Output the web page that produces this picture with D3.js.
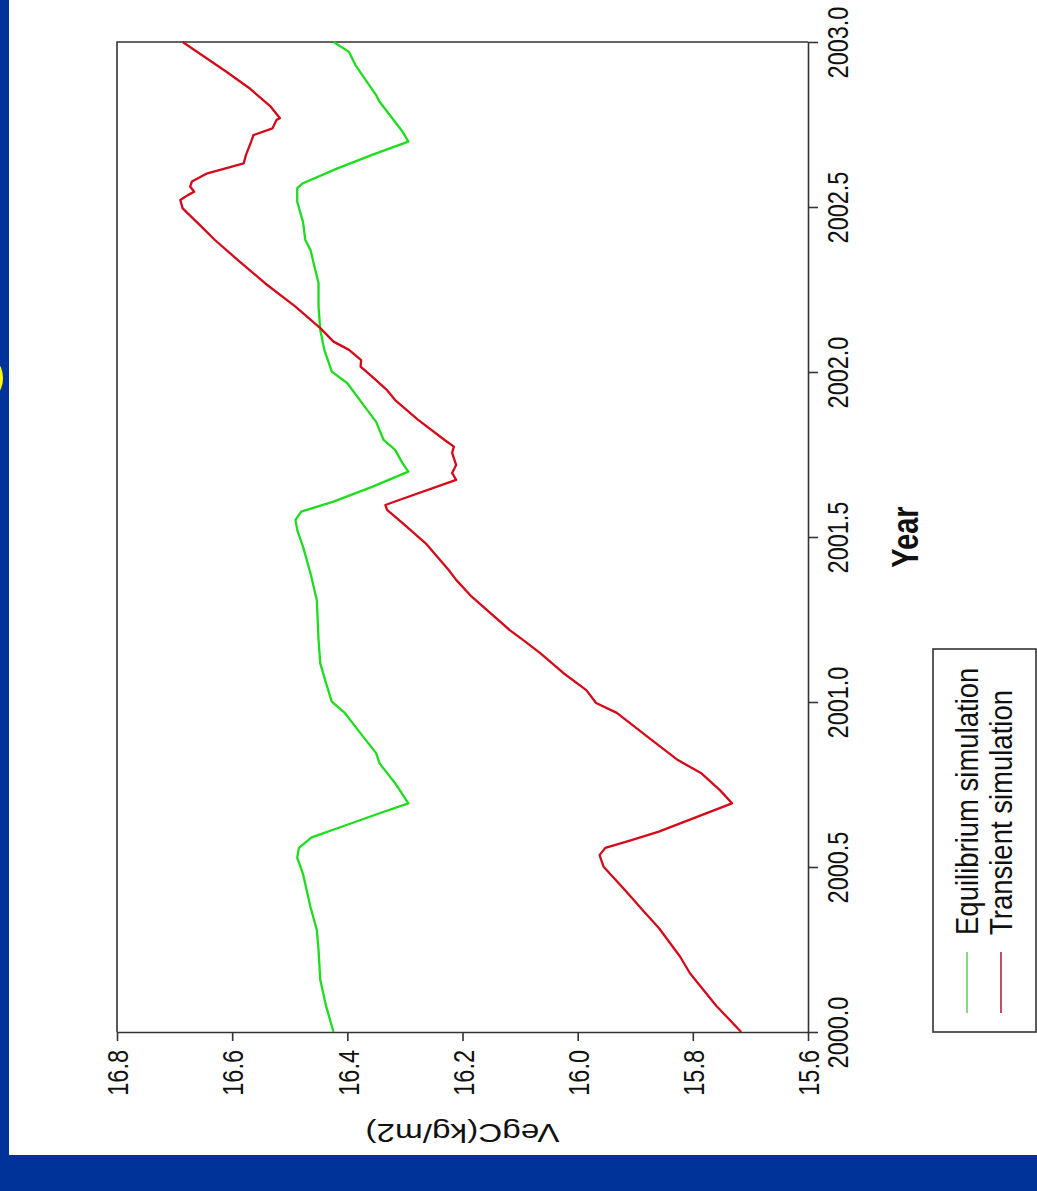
<!DOCTYPE html>
<html>
<head>
<meta charset="utf-8">
<script src="https://cdn.jsdelivr.net/npm/d3@7"></script>
<style>
  html, body { margin: 0; padding: 0; background: #ffffff; }
  svg { display: block; }
  text { font-family: "Liberation Sans", Arial, sans-serif; fill: #111; }
</style>
</head>
<body>
<svg id="chart" width="1037" height="1191"></svg>
<script>
// Vegetation carbon, daily simulation output (sampled along the curve)
const transientYears = [2000.000, 2000.079, 2000.178, 2000.228, 2000.315, 2000.365, 2000.430, 2000.501, 2000.536, 2000.558,
  2000.582, 2000.607, 2000.693, 2000.733, 2000.785, 2000.824, 2000.895, 2000.967, 2000.997, 2001.036,
  2001.088, 2001.148, 2001.188, 2001.218, 2001.319, 2001.370, 2001.400, 2001.481, 2001.542, 2001.582,
  2001.597, 2001.612, 2001.673, 2001.694, 2001.718, 2001.755, 2001.774, 2001.794, 2001.855, 2001.915,
  2001.945, 2001.986, 2002.016, 2002.036, 2002.067, 2002.092, 2002.133, 2002.198, 2002.269, 2002.339,
  2002.400, 2002.445, 2002.496, 2002.521, 2002.536, 2002.546, 2002.562, 2002.577, 2002.602, 2002.632,
  2002.658, 2002.698, 2002.718, 2002.738, 2002.764, 2002.769, 2002.804, 2002.860, 2002.910, 2003.000];
const transientVegC = [15.716, 15.759, 15.805, 15.822, 15.859, 15.885, 15.918, 15.955, 15.962, 15.952,
  15.905, 15.859, 15.732, 15.753, 15.786, 15.826, 15.879, 15.932, 15.968, 15.985,
  16.025, 16.065, 16.095, 16.118, 16.184, 16.211, 16.224, 16.264, 16.304, 16.331,
  16.334, 16.310, 16.211, 16.218, 16.211, 16.218, 16.215, 16.231, 16.277, 16.317,
  16.331, 16.357, 16.377, 16.376, 16.397, 16.424, 16.447, 16.490, 16.543, 16.590,
  16.630, 16.656, 16.686, 16.690, 16.677, 16.666, 16.673, 16.670, 16.643, 16.580,
  16.576, 16.567, 16.563, 16.530, 16.523, 16.517, 16.533, 16.570, 16.610, 16.686];

const equilibriumYears = [2000.000, 2000.079, 2000.158, 2000.248, 2000.309, 2000.379, 2000.479, 2000.528, 2000.558, 2000.590,
  2000.622, 2000.663, 2000.693, 2000.754, 2000.814, 2000.845, 2000.905, 2000.966, 2001.001, 2001.057,
  2001.117, 2001.188, 2001.309, 2001.390, 2001.471, 2001.521, 2001.552, 2001.577, 2001.607, 2001.652,
  2001.698, 2001.723, 2001.764, 2001.794, 2001.849, 2001.905, 2001.966, 2002.001, 2002.067, 2002.127,
  2002.198, 2002.269, 2002.319, 2002.370, 2002.400, 2002.455, 2002.516, 2002.557, 2002.572, 2002.617,
  2002.658, 2002.698, 2002.728, 2002.819, 2002.839, 2002.930, 2002.970, 2003.000];
const equilibriumVegC = [16.424, 16.437, 16.447, 16.450, 16.453, 16.464, 16.477, 16.487, 16.484, 16.462,
  16.410, 16.344, 16.294, 16.317, 16.344, 16.350, 16.377, 16.404, 16.427, 16.437,
  16.447, 16.450, 16.453, 16.464, 16.477, 16.487, 16.490, 16.480, 16.424, 16.357,
  16.294, 16.304, 16.317, 16.337, 16.350, 16.374, 16.400, 16.427, 16.440, 16.447,
  16.450, 16.450, 16.457, 16.464, 16.473, 16.477, 16.487, 16.487, 16.477, 16.417,
  16.357, 16.294, 16.304, 16.344, 16.350, 16.386, 16.397, 16.424];

const vegTicks = [16.8, 16.6, 16.4, 16.2, 16.0, 15.8, 15.6];
const yearTicks = [2000.0, 2000.5, 2001.0, 2001.5, 2002.0, 2002.5, 2003.0];
const seriesNames = ["Equilibrium simulation", "Transient simulation"];
const seriesColors = ["#1edc1e", "#d40a1a"];
const legendColors = ["#5ccc5c", "#b01030"];
const xTitle = "Year";
const yTitle = "VegC(kg/m2)";

const svg = d3.select("#chart");
const W = 1037, H = 1191;
const blue = "#003399";

// slide frame
svg.append("rect").attr("x", 0).attr("y", 0).attr("width", W).attr("height", H).attr("fill", "#ffffff");
svg.append("rect").attr("x", 0).attr("y", 0).attr("width", 9).attr("height", H).attr("fill", blue);
svg.append("rect").attr("x", 0).attr("y", 1155).attr("width", W).attr("height", H - 1155).attr("fill", blue);
svg.append("ellipse").attr("cx", -4).attr("cy", 378).attr("rx", 7).attr("ry", 15).attr("fill", "#ffff00");

// the plot is laid on its side: VegC runs left-to-right, Year runs bottom-to-top
const plot = { left: 117, right: 808, top: 42, bottom: 1032 };
const x = d3.scaleLinear().domain([16.8, 15.6]).range([plot.left, plot.right]);
const y = d3.scaleLinear().domain([2000, 2003]).range([plot.bottom, plot.top]);
const k = 1.28; // glyph stretch across the page

const axisColor = "#333";

// frame (top and left sides)
svg.append("path")
  .attr("d", `M${plot.right},${plot.top}H${plot.left}V${plot.bottom}`)
  .attr("fill", "none").attr("stroke", axisColor).attr("stroke-width", 1.6);

// VegC axis along the bottom
const gx = svg.append("g").attr("transform", `translate(0,${plot.bottom})`)
  .call(d3.axisBottom(x).tickValues(vegTicks).tickFormat(d3.format(".1f")).tickSize(9).tickSizeOuter(0));
gx.select(".domain").attr("stroke", axisColor).attr("stroke-width", 1.6);
gx.selectAll(".tick line").attr("stroke", axisColor).attr("stroke-width", 1.6);
gx.selectAll(".tick text")
  .attr("x", 0).attr("y", 0).attr("dy", "0.36em")
  .attr("text-anchor", "end")
  .attr("font-size", 23.5)
  .attr("fill", "#111")
  .attr("transform", `translate(0,18) rotate(-90) scale(1,${k})`);

// Year axis along the right
const gy = svg.append("g").attr("transform", `translate(${plot.right},0)`)
  .call(d3.axisRight(y).tickValues(yearTicks).tickFormat(d3.format(".1f")).tickSize(10).tickSizeOuter(0));
gy.select(".domain").attr("stroke", axisColor).attr("stroke-width", 1.6);
gy.selectAll(".tick line").attr("stroke", axisColor).attr("stroke-width", 1.6);
gy.selectAll(".tick text")
  .attr("x", 0).attr("y", 0).attr("dy", 0)
  .attr("text-anchor", "middle")
  .attr("font-size", 23.5)
  .attr("fill", "#111")
  .attr("transform", `translate(40,0) rotate(-90) scale(1,${k})`);
gx.attr("font-family", null);
gy.attr("font-family", null);

// axis titles
svg.append("text")
  .attr("transform", `translate(918,${y(2001.5)}) rotate(-90) scale(1,${k})`)
  .attr("text-anchor", "middle")
  .attr("font-size", 29).attr("font-weight", "bold")
  .text(xTitle);
svg.append("text")
  .attr("transform", `translate(${(plot.left + plot.right) / 2},1124) rotate(180) scale(${k},1)`)
  .attr("text-anchor", "middle")
  .attr("font-size", 26)
  .text(yTitle);

// series
const line = d3.line().x(d => x(d[1])).y(d => y(d[0]));
const series = [
  d3.zip(equilibriumYears, equilibriumVegC),
  d3.zip(transientYears, transientVegC)
];
svg.append("g").selectAll("path").data(series).join("path")
  .attr("d", line)
  .attr("fill", "none")
  .attr("stroke", (d, i) => seriesColors[i])
  .attr("stroke-width", 2.3)
  .attr("stroke-linejoin", "round");

// legend
const lg = svg.append("g");
lg.append("rect").attr("x", 933).attr("y", 649).attr("width", 103).attr("height", 383)
  .attr("fill", "#ffffff").attr("stroke", axisColor).attr("stroke-width", 1.6);
seriesNames.forEach((name, i) => {
  const cx = 967 + i * 34;
  lg.append("line").attr("x1", cx).attr("x2", cx).attr("y1", 952).attr("y2", 1013)
    .attr("stroke", legendColors[i]).attr("stroke-width", 1.5);
  lg.append("text")
    .attr("transform", `translate(${cx},935) rotate(-90) scale(1,1.12)`)
    .attr("dy", "0.36em")
    .attr("text-anchor", "start")
    .attr("font-size", 27.5)
    .text(name);
});
</script>
</body>
</html>
